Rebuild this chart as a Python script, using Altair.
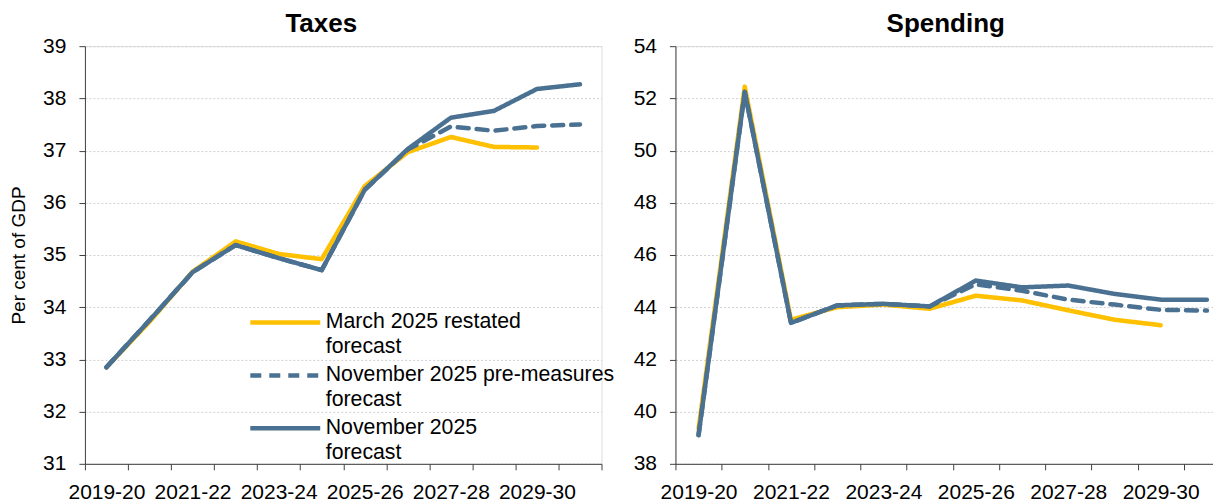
import altair as alt
import pandas as pd

years = ["2019-20", "2020-21", "2021-22", "2022-23", "2023-24", "2024-25",
         "2025-26", "2026-27", "2027-28", "2028-29", "2029-30", "2030-31"]
shown_labels = ["2019-20", "2021-22", "2023-24", "2025-26", "2027-28", "2029-30"]

series_names = ["March 2025 restated forecast",
                "November 2025 pre-measures forecast",
                "November 2025 forecast"]
series_colors = ["#FFC000", "#4A7191", "#4A7191"]
series_dashes = [[1, 0], [11, 8], [1, 0]]

# Taxes, per cent of GDP
tax_march = [32.85, 33.72, 34.68, 35.26, 35.02, 34.92, 36.32, 36.97, 37.26, 37.07, 37.06, None]
tax_pre = [32.85, 33.75, 34.67, 35.19, 34.94, 34.71, 36.25, 37.02, 37.46, 37.38, 37.47, 37.50]
tax_nov = [32.85, 33.75, 34.67, 35.19, 34.94, 34.71, 36.25, 37.03, 37.63, 37.76, 38.18, 38.27]

# Spending, per cent of GDP
spend_march = [39.35, 52.45, 43.52, 44.00, 44.10, 43.94, 44.44, 44.26, 43.88, 43.52, 43.31, None]
spend_pre = [39.10, 52.25, 43.40, 44.07, 44.13, 44.03, 44.88, 44.63, 44.29, 44.10, 43.90, 43.87]
spend_nov = [39.10, 52.25, 43.40, 44.07, 44.13, 44.03, 45.02, 44.76, 44.83, 44.51, 44.29, 44.29]

tax_ticks = [31, 32, 33, 34, 35, 36, 37, 38, 39]
spend_ticks = [38, 40, 42, 44, 46, 48, 50, 52, 54]

legend_lines = {
    "March 2025 restated forecast": ["March 2025 restated", "forecast"],
    "November 2025 pre-measures forecast": ["November 2025 pre-measures", "forecast"],
    "November 2025 forecast": ["November 2025", "forecast"],
}


def frame(values_list):
    rows = []
    for name, vals in zip(series_names, values_list):
        for y, v in zip(years, vals):
            if v is not None:
                rows.append({"year": y, "value": v, "series": name})
    return pd.DataFrame(rows)


tax_df = frame([tax_march, tax_pre, tax_nov])
spend_df = frame([spend_march, spend_pre, spend_nov])

FONT = "Liberation Sans"
label_expr = "indexof(" + str(shown_labels) + ", datum.value) >= 0 ? datum.value : ''"
legend_expr = ("datum.label == '" + series_names[0] + "' ? " + str(legend_lines[series_names[0]]) +
               " : datum.label == '" + series_names[1] + "' ? " + str(legend_lines[series_names[1]]) +
               " : " + str(legend_lines[series_names[2]]))


def panel(df, title, ticks, width, y_title, show_legend, title_dx):
    x = alt.X("year:N", sort=years,
              scale=alt.Scale(domain=years, paddingInner=0, paddingOuter=0),
              axis=alt.Axis(title=None, labelAngle=0, tickBand="extent",
                            labelExpr=label_expr, labelFontSize=21, labelFont=FONT,
                            labelColor="#000000", labelPadding=12, tickSize=6,
                            domainColor="#404040", tickColor="#404040",
                            labelOverlap=False, labelFlush=False, grid=False))
    y = alt.Y("value:Q",
              scale=alt.Scale(domain=[ticks[0], ticks[-1]], nice=False, zero=False),
              axis=alt.Axis(title=y_title, values=ticks, labelFontSize=21, labelFont=FONT,
                            labelColor="#000000", labelPadding=13, tickSize=6,
                            titleFont=FONT, titleFontSize=19, titleFontWeight="normal",
                            titleColor="#000000", titlePadding=14,
                            domainColor="#404040", tickColor="#404040",
                            grid=True, gridColor="#D0D0D0", gridDash=[2, 2], gridWidth=1))
    if show_legend:
        leg = alt.Legend(title=None, orient="none", legendX=183, legendY=259,
                         symbolType="M-2.333,0H2.333", symbolSize=900,
                         symbolStrokeWidth=4.5,
                         labelFont=FONT, labelFontSize=21.3, labelColor="#000000",
                         labelExpr=legend_expr, labelOffset=23, rowPadding=0,
                         labelLimit=400)
    else:
        leg = None
    color = alt.Color("series:N", scale=alt.Scale(domain=series_names, range=series_colors),
                      sort=series_names, legend=leg)
    dash = alt.StrokeDash("series:N", scale=alt.Scale(domain=series_names, range=series_dashes),
                          sort=series_names, legend=leg)
    return alt.Chart(df).mark_line(strokeWidth=4.5, strokeCap="round", strokeJoin="round").encode(
        x=x, y=y, color=color, strokeDash=dash
    ).properties(
        width=width, height=418,
        title=alt.TitleParams(title, font=FONT, fontSize=26, fontWeight="bold",
                              color="#000000", dx=title_dx, offset=-2)
    )


left = panel(tax_df, "Taxes", tax_ticks, 517, "Per cent of GDP", True, -22)
right = panel(spend_df, "Spending", spend_ticks, 555, None, False, -7)

chart = alt.hconcat(left, right, spacing=17).resolve_scale(
    color="independent", strokeDash="independent"
).properties(
    padding={"left": 1, "top": 2, "right": -18, "bottom": 0}
).configure_view(stroke=None).configure(
    background="white", style={"guide-label": {"lineHeight": 25}}
)

chart.save("out.html", embed_options={"renderer": "svg", "actions": False})
